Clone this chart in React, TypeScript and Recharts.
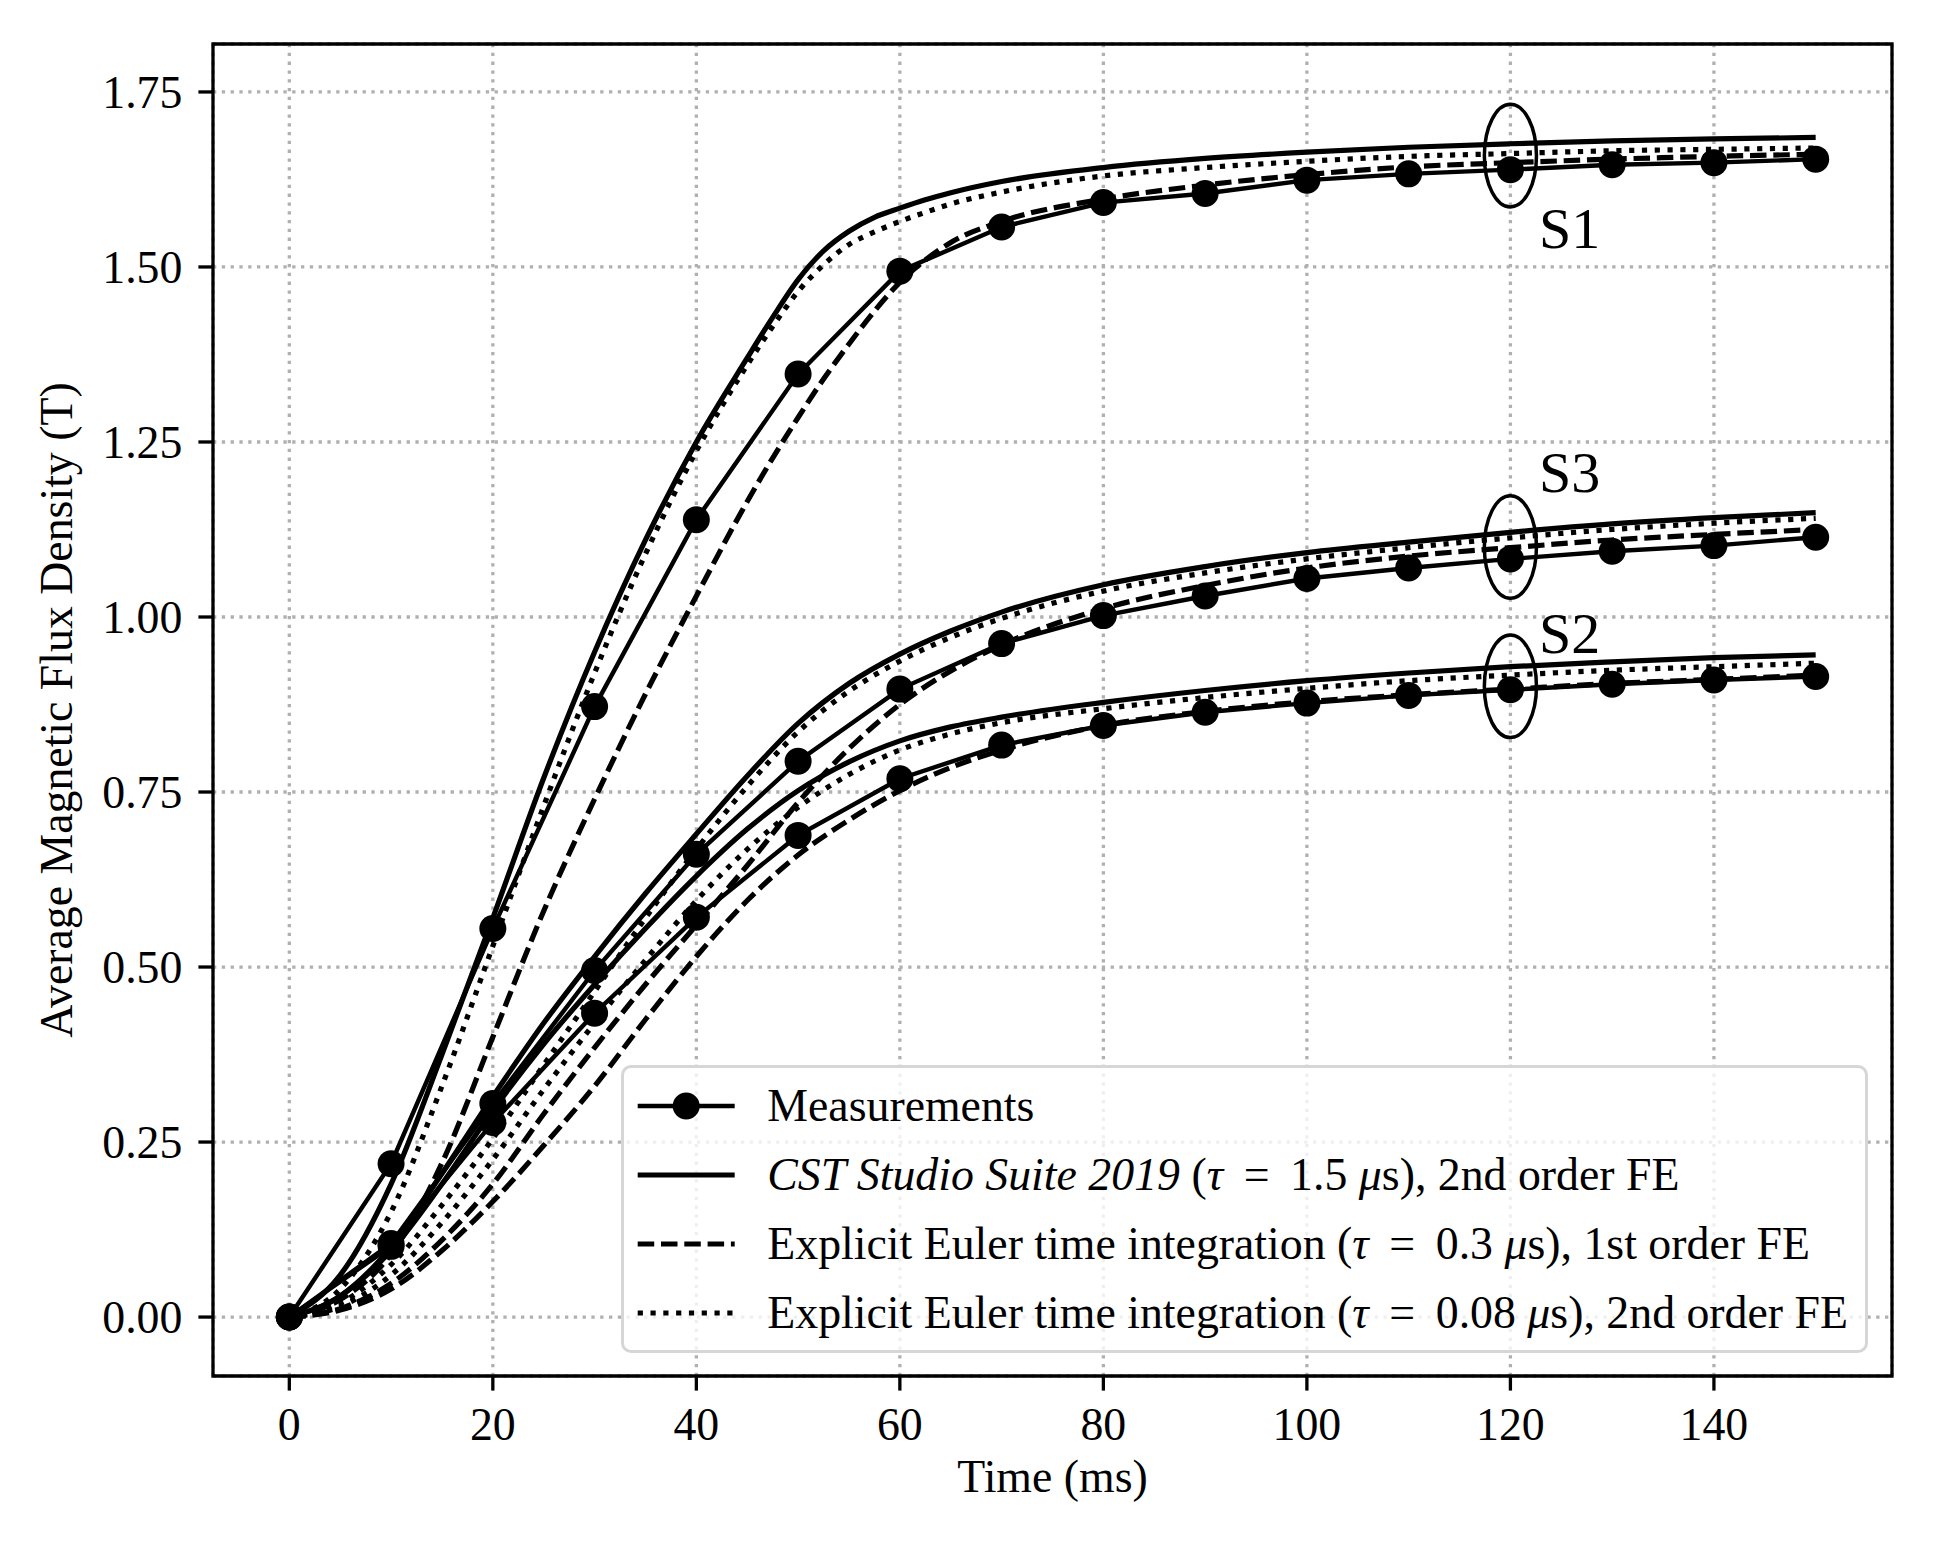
import React from "react";
import {
  LineChart,
  Line,
  XAxis,
  YAxis,
  CartesianGrid,
  Legend,
  ReferenceArea,
  ReferenceDot,
} from "recharts";

// sample times (ms)
const measT = [0, 10, 20, 30, 40, 50, 60, 70, 80, 90, 100, 110, 120, 130, 140, 150];
const simT = [0, 5, 10, 15, 20, 25, 30, 35, 40, 45, 50, 55, 60, 65, 70, 80, 90, 100, 110, 120, 130, 140, 150];
// S1 bends sharply around 50-60 ms, read more densely there
const simT1 = [0, 5, 10, 15, 20, 25, 30, 35, 40, 45, 47.5, 50, 52.5, 55, 57.5, 60, 62.5, 65, 70, 80, 90, 100, 110, 120, 130, 140, 150];

// measurements (T)
const measS1 = [0, 0.219, 0.555, 0.872, 1.139, 1.347, 1.494, 1.557, 1.592, 1.605, 1.624, 1.633, 1.639, 1.646, 1.649, 1.654];
const measS2 = [0, 0.101, 0.278, 0.434, 0.571, 0.688, 0.769, 0.817, 0.845, 0.864, 0.877, 0.888, 0.896, 0.904, 0.91, 0.915];
const measS3 = [0, 0.105, 0.305, 0.495, 0.661, 0.794, 0.897, 0.962, 1.002, 1.03, 1.055, 1.07, 1.083, 1.094, 1.102, 1.114];

// CST Studio Suite 2019, 2nd order FE
const cstS1 = [0, 0.06, 0.19, 0.375, 0.57, 0.77, 0.95, 1.11, 1.25, 1.37, 1.428, 1.482, 1.523, 1.551, 1.571, 1.584, 1.596, 1.606, 1.622, 1.642, 1.655, 1.664, 1.671, 1.676, 1.68, 1.683, 1.685];
const cstS2 = [0, 0.03, 0.095, 0.19, 0.295, 0.39, 0.475, 0.555, 0.63, 0.697, 0.752, 0.793, 0.823, 0.843, 0.857, 0.878, 0.895, 0.909, 0.92, 0.929, 0.936, 0.942, 0.946];
const cstS3 = [0, 0.03, 0.1, 0.205, 0.315, 0.42, 0.515, 0.605, 0.69, 0.773, 0.848, 0.905, 0.947, 0.98, 1.007, 1.046, 1.072, 1.092, 1.107, 1.121, 1.133, 1.142, 1.149];

// explicit Euler, tau = 0.3 us, 1st order FE
const ee1S1 = [0, 0.025, 0.09, 0.22, 0.4, 0.58, 0.74, 0.89, 1.03, 1.165, 1.227, 1.285, 1.34, 1.39, 1.437, 1.478, 1.51, 1.535, 1.565, 1.597, 1.617, 1.632, 1.643, 1.649, 1.654, 1.658, 1.661];
const ee1S2 = [0, 0.01, 0.04, 0.095, 0.165, 0.245, 0.33, 0.425, 0.515, 0.595, 0.66, 0.71, 0.752, 0.785, 0.81, 0.845, 0.865, 0.879, 0.889, 0.897, 0.905, 0.911, 0.917];
const ee1S3 = [0, 0.012, 0.048, 0.11, 0.19, 0.29, 0.385, 0.475, 0.56, 0.645, 0.735, 0.812, 0.875, 0.923, 0.96, 1.012, 1.045, 1.07, 1.087, 1.099, 1.11, 1.118, 1.125];

// explicit Euler, tau = 0.08 us, 2nd order FE
const ee2S1 = [0, 0.04, 0.15, 0.33, 0.53, 0.73, 0.92, 1.09, 1.237, 1.36, 1.415, 1.465, 1.503, 1.532, 1.55, 1.565, 1.578, 1.59, 1.607, 1.63, 1.642, 1.651, 1.658, 1.662, 1.666, 1.668, 1.67];
const ee2S2 = [0, 0.015, 0.06, 0.135, 0.225, 0.325, 0.42, 0.51, 0.595, 0.668, 0.728, 0.775, 0.81, 0.833, 0.849, 0.869, 0.885, 0.898, 0.909, 0.917, 0.924, 0.929, 0.934];
const ee2S3 = [0, 0.02, 0.075, 0.16, 0.255, 0.36, 0.465, 0.57, 0.668, 0.758, 0.836, 0.894, 0.937, 0.971, 0.998, 1.037, 1.063, 1.083, 1.099, 1.113, 1.125, 1.134, 1.141];

const xTicks = [0, 20, 40, 60, 80, 100, 120, 140];
const yTicks = [0, 0.25, 0.5, 0.75, 1.0, 1.25, 1.5, 1.75];

// ellipse markers around t = 120 ms and sample labels
const ellipseCenters = [
  { t: 120, b: 1.659 },
  { t: 120, b: 1.1 },
  { t: 120, b: 0.901 },
];
const ellipseSize = { t: 2.56, b: 0.0733 }; // half axes in data units
const sampleLabels = [
  { text: "S1", t: 122.8, b: 1.527 },
  { text: "S3", t: 122.8, b: 1.178 },
  { text: "S2", t: 122.8, b: 0.949 },
];

const W = 1937;
const H = 1549;
const MARGIN = { top: 44, right: 45, bottom: 0, left: 0 };
const Y_AXIS_W = 213;
const X_AXIS_H = 173;
const X_DOMAIN: [number, number] = [-7.5, 157.5];
const Y_DOMAIN: [number, number] = [-0.0842, 1.8185];
const PLOT_W = W - MARGIN.left - MARGIN.right - Y_AXIS_W;
const PLOT_H = H - MARGIN.top - MARGIN.bottom - X_AXIS_H;

const FONT = '"Liberation Serif", "Times New Roman", "DejaVu Serif", serif';
const FS = 45.8;
const LW = 5.2;
const LW_MEAS = 4.4;
const DASHED = "16.5 6.8";
const DOTTED = "5.2 7.6";

type Kind = "meas" | "cst" | "ee1" | "ee2";

const toPts = (ts: number[], ys: number[]) => ts.map((t, i) => ({ t, b: ys[i] }));

const series: { id: string; kind: Kind; pts: { t: number; b: number }[] }[] = [
  { id: "cst1", kind: "cst", pts: toPts(simT1, cstS1) },
  { id: "cst2", kind: "cst", pts: toPts(simT, cstS2) },
  { id: "cst3", kind: "cst", pts: toPts(simT, cstS3) },
  { id: "ee11", kind: "ee1", pts: toPts(simT1, ee1S1) },
  { id: "ee12", kind: "ee1", pts: toPts(simT, ee1S2) },
  { id: "ee13", kind: "ee1", pts: toPts(simT, ee1S3) },
  { id: "ee21", kind: "ee2", pts: toPts(simT1, ee2S1) },
  { id: "ee22", kind: "ee2", pts: toPts(simT, ee2S2) },
  { id: "ee23", kind: "ee2", pts: toPts(simT, ee2S3) },
  { id: "m1", kind: "meas", pts: toPts(measT, measS1) },
  { id: "m2", kind: "meas", pts: toPts(measT, measS2) },
  { id: "m3", kind: "meas", pts: toPts(measT, measS3) },
];

// math-style spacing around the relation sign
const Eq = () => <span style={{ margin: "0 0.45em" }}>=</span>;

const legendItems: { kind: Kind; label: React.ReactNode }[] = [
  { kind: "meas", label: "Measurements" },
  {
    kind: "cst",
    label: (
      <>
        <i>CST Studio Suite 2019</i> (<i>τ</i>
        <Eq />
        1.5 <i>μ</i>s), 2nd order FE
      </>
    ),
  },
  {
    kind: "ee1",
    label: (
      <>
        Explicit Euler time integration (<i>τ</i>
        <Eq />
        0.3 <i>μ</i>s), 1st order FE
      </>
    ),
  },
  {
    kind: "ee2",
    label: (
      <>
        Explicit Euler time integration (<i>τ</i>
        <Eq />
        0.08 <i>μ</i>s), 2nd order FE
      </>
    ),
  },
];

function dashOf(kind: Kind) {
  if (kind === "ee1") return DASHED;
  if (kind === "ee2") return DOTTED;
  return undefined;
}

function LegendBox() {
  const border = 3.3;
  return (
    <div
      style={{
        position: "relative",
        width: 1247,
        height: 288,
        boxSizing: "border-box",
        border: `${border}px solid #d6d6d6`,
        borderRadius: 10,
        background: "rgba(255,255,255,0.8)",
        fontFamily: FONT,
        fontSize: FS,
        color: "#000",
      }}
    >
      {legendItems.map((it, i) => (
        <div
          key={i}
          style={{
            position: "absolute",
            left: 0,
            top: 40.8 + i * 69.2 - border - 30,
            height: 60,
            display: "flex",
            alignItems: "center",
            whiteSpace: "nowrap",
            lineHeight: "60px",
          }}
        >
          <svg width={143.3} height={60} style={{ flex: "none" }}>
            <line
              x1={13.7}
              x2={110.7}
              y1={30}
              y2={30}
              stroke="#000"
              strokeWidth={it.kind === "meas" ? LW_MEAS : LW}
              strokeDasharray={dashOf(it.kind)}
            />
            {it.kind === "meas" && <circle cx={62.2} cy={30} r={13.5} fill="#000" />}
          </svg>
          <span>{it.label}</span>
        </div>
      ))}
    </div>
  );
}

export default function App() {
  const pxPerT = PLOT_W / (X_DOMAIN[1] - X_DOMAIN[0]);
  const pxPerB = PLOT_H / (Y_DOMAIN[1] - Y_DOMAIN[0]);
  const rx = ellipseSize.t * pxPerT;
  const ry = ellipseSize.b * pxPerB;

  return (
    <div style={{ position: "absolute", left: 0, top: 0, width: W, height: H, background: "#fff" }}>
      <LineChart width={W} height={H} margin={MARGIN}>
        <CartesianGrid stroke="#b0b0b0" strokeWidth={3.3} strokeDasharray="3.3 5.5" />
        <XAxis
          type="number"
          dataKey="t"
          domain={X_DOMAIN}
          ticks={xTicks}
          allowDataOverflow
          height={X_AXIS_H}
          axisLine={false}
          tickSize={14.6}
          tickMargin={17}
          tickLine={{ stroke: "#000", strokeWidth: 3.3 }}
          tick={{ fill: "#000", fontSize: FS, fontFamily: FONT }}
          label={{
            value: "Time (ms)",
            position: "insideBottom",
            offset: 57,
            fill: "#000",
            fontSize: FS,
            fontFamily: FONT,
          }}
        />
        <YAxis
          type="number"
          domain={Y_DOMAIN}
          ticks={yTicks}
          allowDataOverflow
          width={Y_AXIS_W}
          axisLine={false}
          tickSize={14.6}
          tickMargin={16}
          tickLine={{ stroke: "#000", strokeWidth: 3.3 }}
          tick={{ fill: "#000", fontSize: FS, fontFamily: FONT }}
          tickFormatter={(v: number) => v.toFixed(2)}
          label={(props: any) => {
            const vb = props.viewBox || {};
            const cy = (vb.y ?? MARGIN.top) + (vb.height ?? PLOT_H) / 2;
            const x = 72;
            return (
              <text
                x={x}
                y={cy}
                transform={`rotate(-90, ${x}, ${cy})`}
                textAnchor="middle"
                fill="#000"
                fontSize={FS}
                fontFamily={FONT}
              >
                Average Magnetic Flux Density (T)
              </text>
            );
          }}
        />

        {series.map((s) => (
          <Line
            key={s.id}
            data={s.pts}
            dataKey="b"
            type={s.kind === "meas" ? "linear" : "monotone"}
            stroke="#000"
            strokeWidth={s.kind === "meas" ? LW_MEAS : LW}
            strokeDasharray={dashOf(s.kind)}
            dot={s.kind === "meas" ? { r: 13.5, fill: "#000", stroke: "none" } : false}
            activeDot={false}
            legendType="none"
            isAnimationActive={false}
          />
        ))}

        {ellipseCenters.map((e, i) => (
          <ReferenceDot
            key={`el${i}`}
            x={e.t}
            y={e.b}
            r={0}
            shape={(p: any) => (
              <ellipse cx={p.cx} cy={p.cy} rx={rx} ry={ry} fill="none" stroke="#000" strokeWidth={3.5} />
            )}
          />
        ))}

        {sampleLabels.map((l) => (
          <ReferenceDot
            key={l.text}
            x={l.t}
            y={l.b}
            r={0}
            shape={(p: any) => (
              <text x={p.cx} y={p.cy} fill="#000" fontSize={58} fontFamily={FONT}>
                {l.text}
              </text>
            )}
          />
        ))}

        <ReferenceArea
          x1={X_DOMAIN[0]}
          x2={X_DOMAIN[1]}
          y1={Y_DOMAIN[0]}
          y2={Y_DOMAIN[1]}
          fill="none"
          stroke="#000"
          strokeWidth={3.3}
        />

        <Legend
          layout="horizontal"
          verticalAlign="middle"
          align="center"
          wrapperStyle={{ left: 621, top: 1065, width: 1247, height: 288 }}
          content={() => <LegendBox />}
        />
      </LineChart>
    </div>
  );
}
